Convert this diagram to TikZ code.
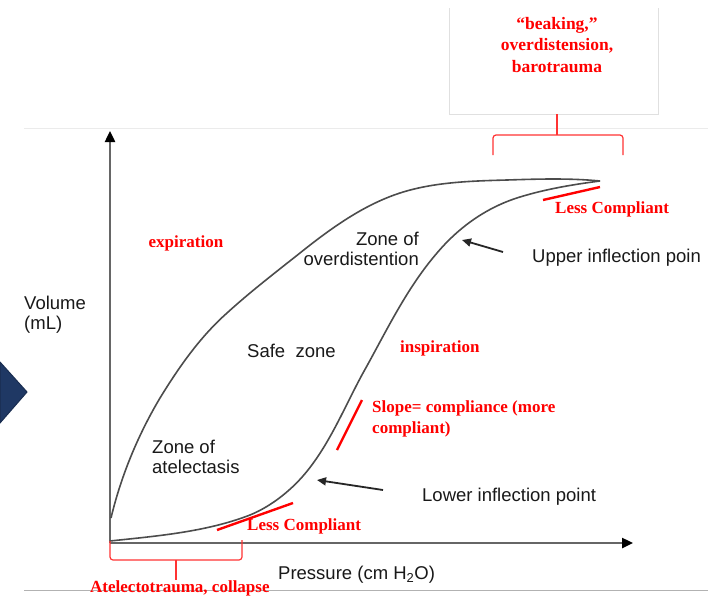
\documentclass[tikz,border=0pt]{standalone}
\usepackage{fontspec}
\setmainfont{Liberation Serif}
\setsansfont{Liberation Sans}
\usepackage{tikz}
\usetikzlibrary{arrows.meta, positioning}

\definecolor{navyblue}{HTML}{1F3864}

\begin{document}
\begin{tikzpicture}[x=1pt, y=-1pt,
  lbl/.style={font=\sffamily\fontsize{18.5}{20}\selectfont, text=black!90, inner sep=0pt},
  redlbl/.style={font=\rmfamily\bfseries\fontsize{17}{21}\selectfont, text=red, inner sep=0pt},
  pvloop/.style={draw=black!70, line width=1.6pt},
  axis/.style={draw=black!60, line width=2.4pt, -{Triangle[length=11pt, width=10pt, color=black]}},
  slopemark/.style={draw=red, line width=2.4pt},
  brk/.style={draw=red!80, line width=1.2pt, rounded corners=3pt},
  pointer/.style={draw=black!85, line width=1.8pt, -{Triangle[length=9pt, width=8pt]}},
  rule/.style={draw=black!12, line width=1pt}
]
\useasboundingbox (0,0) rectangle (708,597);
\fill[white] (0,0) rectangle (708,597);

%  : -- Slide frame: box, rules, chevron  : --
\draw[rule] (449,8) -- (449,114) -- (658,114) -- (658,8);
\draw[draw=black!8, line width=1pt] (24,128) -- (708,128);
\draw[draw=black!30, line width=1pt] (24,590) -- (708,590);
\fill[navyblue, draw=navyblue!80!black, line width=1pt] (0,362) -- (27,392) -- (0,423) -- cycle;

%  : -- Axes  : --
\coordinate (origin) at (110,543);
\coordinate (ytop) at (110,131);
\coordinate (xend) at (633,543);
\draw[axis] (origin) -- (ytop);
\draw[axis] (origin) -- (xend);
\node[lbl, align=left, anchor=base west] (vol) at (24,329) {Volume\\(mL)};
\node[lbl, anchor=base west] (press) at (278,579) {Pressure (cm H\textsubscript{2}O)};

%  : -- Pressure-volume loop  : --
% expiration limb
\draw[pvloop] (111,518) .. controls (121,476) and (138,435) .. (160,398)
  .. controls (179,367) and (200,337) .. (227,313)
  .. controls (250,292) and (276,272) .. (300,253)
  .. controls (330,229) and (363,205) .. (400,193)
  .. controls (434,182) and (471,181) .. (507,180)
  .. controls (538,179) and (569,178) .. (600,181);
% inspiration limb
\draw[pvloop] (110,541) .. controls (157,536) and (206,532) .. (250,515)
  .. controls (272,506) and (293,489) .. (308,470)
  .. controls (331,441) and (345,406) .. (363,373)
  .. controls (386,332) and (406,289) .. (437,253)
  .. controls (459,227) and (487,207) .. (520,197)
  .. controls (546,189) and (573,184.5) .. (600,181);

%  : -- Zones  : --
\node[lbl, align=right, anchor=base east] (zover) at (419,265) {Zone of\\overdistention};
\node[lbl, anchor=base west] (safe) at (247,357) {Safe\ \ zone};
\node[lbl, align=left, anchor=base west] (zatel) at (152,473) {Zone of\\atelectasis};
\node[redlbl, anchor=base] (expi) at (186,247) {expiration};
\node[redlbl, anchor=base west] (insp) at (400,352) {inspiration};

%  : -- Compliance marks  : --
\draw[slopemark] (543,200) -- (600,187);
\node[redlbl, anchor=base west] (lcup) at (555,213) {Less Compliant};
\draw[slopemark] (337,450) -- (362,400);
\node[redlbl, align=left, anchor=base west] (slope) at (372,433) {Slope= compliance (more\\compliant)};
\draw[slopemark] (217,530) -- (293,503);
\node[redlbl, anchor=base west] (lclow) at (247,530) {Less Compliant};

%  : -- Inflection points  : --
\node[lbl, anchor=base west] (upinf) at (532,262) {Upper inflection poin};
\coordinate (uptail) at (503,252);
\coordinate (uptip) at (462,240);
\draw[pointer] (uptail) -- (uptip);
\node[lbl, anchor=base west] (lowinf) at (422,501) {Lower inflection point};
\coordinate (lowtail) at (383,490);
\coordinate (lowtip) at (317,480);
\draw[pointer] (lowtail) -- (lowtip);

%  : -- Injury brackets  : --
\node[redlbl, align=center, anchor=base, font=\rmfamily\bfseries\fontsize{17.5}{21.5}\selectfont] (beak) at (557,72) {“beaking,”\\overdistension,\\barotrauma};
\draw[brk] (493,155) -- (493,135) -- (623,135) -- (623,155);
\draw[brk] (557,135) -- (557,114);
\node[redlbl, anchor=base west] (atel) at (90,592) {Atelectotrauma, collapse};
\draw[brk] (110,541) -- (110,560) -- (242,560) -- (242,540);
\draw[brk] (176,560) -- (176,580);

\end{tikzpicture}
\end{document}
